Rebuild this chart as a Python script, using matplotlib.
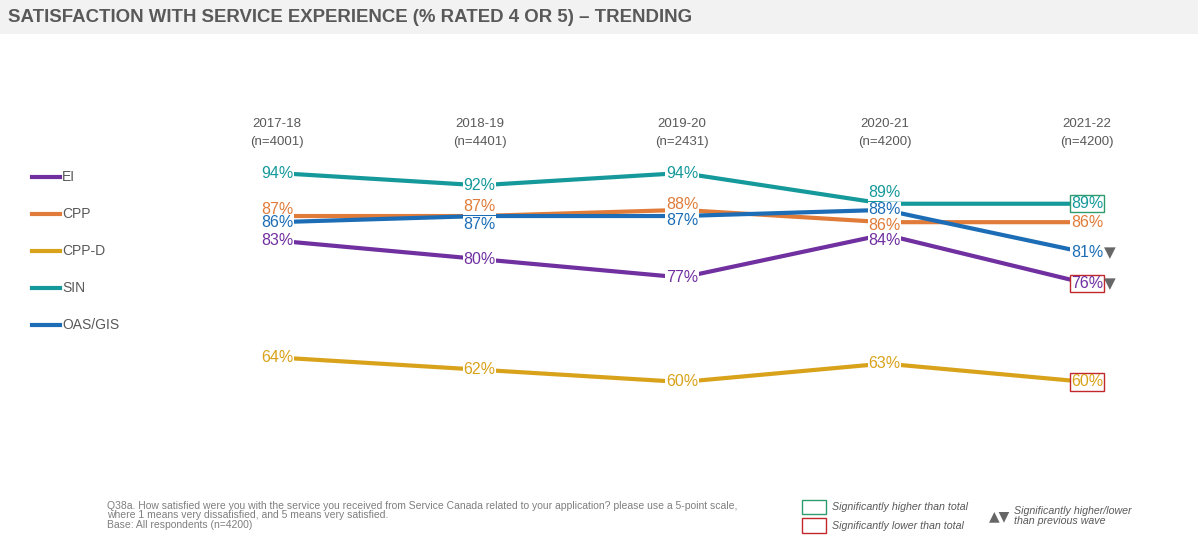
import numpy as np
import matplotlib
matplotlib.use("Agg")
import matplotlib.pyplot as plt
from matplotlib.lines import Line2D
from matplotlib.patches import Rectangle
import matplotlib.transforms as mtransforms

plt.rcParams["font.family"] = ["Liberation Sans", "DejaVu Sans"]

# ---- data ----
waves = ["2017-18", "2018-19", "2019-20", "2020-21", "2021-22"]
bases = ["(n=4001)", "(n=4401)", "(n=2431)", "(n=4200)", "(n=4200)"]
series_names = ["EI", "CPP", "CPP-D", "SIN", "OAS/GIS"]
ei = [83, 80, 77, 84, 76]
cpp = [87, 87, 88, 86, 86]
cpp_d = [64, 62, 60, 63, 60]
sin = [94, 92, 94, 89, 89]
oas_gis = [86, 87, 87, 88, 81]

# significance flags for the last wave
sig_box = {"SIN": "higher", "EI": "lower", "CPP-D": "lower"}
sig_arrow = {"OAS/GIS": "down", "EI": "down"}

colors = {
    "EI": "#7030a0",
    "CPP": "#e07b39",
    "CPP-D": "#d9a21b",
    "SIN": "#16999a",
    "OAS/GIS": "#1c6db5",
}
# small vertical nudges (in % points) so the labels don't collide
label_nudge = {
    "EI": [0, 0, 0, -0.9, 0],
    "CPP": [1.1, 1.5, 0.8, -0.5, 0],
    "CPP-D": [0, 0, 0, 0, 0],
    "SIN": [0, 0, 0, 1.8, 0],
    "OAS/GIS": [0, -1.3, -0.8, 0, 0],
}
values = {"EI": ei, "CPP": cpp, "CPP-D": cpp_d, "SIN": sin, "OAS/GIS": oas_gis}

footnote_lines = [
    "Q38a. How satisfied were you with the service you received from Service Canada related to your application? please use a 5-point scale,",
    "where 1 means very dissatisfied, and 5 means very satisfied.",
    "Base: All respondents (n=4200)",
]

W, H = 1198, 545
fig = plt.figure(figsize=(W / 100, H / 100), dpi=100)


def fx(px):
    return px / W


def fy(py):
    return 1 - py / H


# title band
fig.patches.append(Rectangle((0, fy(34)), 1, fy(0) - fy(34), transform=fig.transFigure,
                             facecolor="#f2f2f2", edgecolor="none", zorder=0))
fig.text(fx(8), fy(17), "SATISFACTION WITH SERVICE EXPERIENCE (% RATED 4 OR 5) \u2013 TRENDING",
         fontweight="bold", fontsize=13.4, color="#595959", va="center", ha="left")

# plot area: x index 0 -> 277px, 4 -> 1087px ; y 94 -> 173px, 60 -> 382px
ax = fig.add_axes([fx(277), fy(382), fx(1087) - fx(277), fy(173) - fy(382)])
ax.set_xlim(0, len(waves) - 1)
ax.set_ylim(60, 94)
ax.axis("off")

x = np.arange(len(waves))
for name in series_names:
    v = values[name]
    ax.plot(x, v, color=colors[name], lw=3, clip_on=False, zorder=2)
    for i, val in enumerate(v):
        bbox = dict(facecolor="white", edgecolor="none", pad=0.5)
        if i == len(v) - 1 and name in sig_box:
            ec = "#2e9c6e" if sig_box[name] == "higher" else "#c0282d"
            bbox = dict(facecolor="white", edgecolor=ec, lw=1.0, pad=0.8)
        # lower labels drawn on top so they stay readable
        ax.text(i, val + label_nudge[name][i], f"{val}%", ha="center", va="center",
                fontsize=11.5, color=colors[name], bbox=bbox,
                zorder=5 + (100 - val) / 100, clip_on=False)
    if name in sig_arrow:
        mark = "\u25BC" if sig_arrow[name] == "down" else "\u25B2"
        ax.text(len(v) - 1 + 0.115, v[-1], mark, ha="center", va="center",
                fontsize=11, color="#666666", family="DejaVu Sans", zorder=6, clip_on=False)

# wave headers
trans = mtransforms.blended_transform_factory(ax.transData, fig.transFigure)
for i, (w, b) in enumerate(zip(waves, bases)):
    ax.text(i, fy(124), w, transform=trans, ha="center", va="center",
            fontsize=9.5, color="#595959", clip_on=False)
    ax.text(i, fy(142), b, transform=trans, ha="center", va="center",
            fontsize=9.5, color="#595959", clip_on=False)

# legend on the left
for k, name in enumerate(series_names):
    yy = fy(177 + 37 * k)
    fig.add_artist(Line2D([fx(32), fx(60)], [yy, yy], color=colors[name], lw=3,
                          transform=fig.transFigure))
    fig.text(fx(62), yy, name, fontsize=10, color="#595959", va="center", ha="left")

# footnote (tight line spacing like the source)
fig.text(fx(107), fy(501), "\n".join(footnote_lines), fontsize=7.5, color="#7f7f7f",
         va="top", ha="left", linespacing=0.92)

# significance key
fig.patches.append(Rectangle((fx(802), fy(514)), fx(24), fy(500) - fy(514), transform=fig.transFigure,
                             facecolor="white", edgecolor="#2e9c6e", lw=1))
fig.patches.append(Rectangle((fx(802), fy(533)), fx(24), fy(518) - fy(533), transform=fig.transFigure,
                             facecolor="white", edgecolor="#c0282d", lw=1))
fig.text(fx(832), fy(507), "Significantly higher than total", style="italic",
         fontsize=7.7, color="#595959", va="center", ha="left")
fig.text(fx(832), fy(526), "Significantly lower than total", style="italic",
         fontsize=7.7, color="#595959", va="center", ha="left")
fig.text(fx(989), fy(516), "\u25B2\u25BC", family="DejaVu Sans", fontsize=10,
         color="#666666", va="center", ha="left")
fig.text(fx(1014), fy(516), "Significantly higher/lower\nthan previous wave", style="italic",
         fontsize=7.7, color="#595959", va="center", ha="left", linespacing=1.05)

fig.savefig("out.png", dpi=100, facecolor="white")
